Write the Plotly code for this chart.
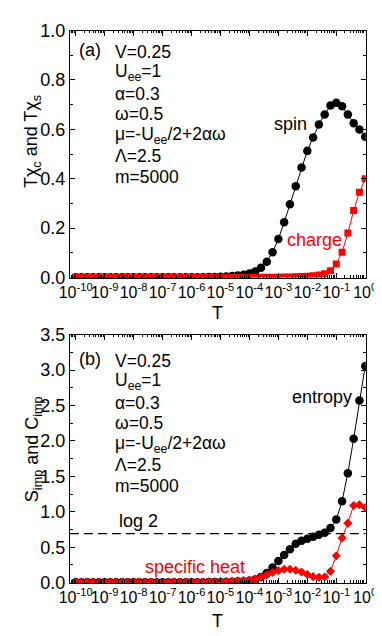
import numpy as np
import plotly.graph_objects as go

W, H = 382, 636

# Temperature grid (log10 T), from low T to high T (0.2 decade steps)
LOGT = [round(-10 + 0.2 * i, 2) for i in range(51)]
T = [10 ** v for v in LOGT]

# Values listed from high T (T=1) down to low T, then reversed to ascending T
spin_hi_to_lo = [0.57, 0.60, 0.625, 0.66, 0.694, 0.708, 0.697, 0.66, 0.62, 0.567,
                 0.513, 0.446, 0.37, 0.297, 0.224, 0.156, 0.103, 0.064, 0.04, 0.025,
                 0.016, 0.011, 0.008, 0.006, 0.004, 0.003, 0.0025, 0.002, 0.0015, 0.001,
                 0.001, 0.001, 0.001, 0.001, 0.001, 0.001, 0.001, 0.001, 0.001, 0.001,
                 0.001, 0.001, 0.001, 0.001, 0.001, 0.001, 0.001, 0.001, 0.001, 0.001, 0.001]
charge_hi_to_lo = [0.40, 0.345, 0.272, 0.18, 0.103, 0.055, 0.028, 0.015, 0.010, 0.007,
                   0.005, 0.004, 0.003, 0.0025, 0.002, 0.0015, 0.001, 0.001, 0.001, 0.001,
                   0.001, 0.001, 0.001, 0.001, 0.001, 0.001, 0.001, 0.001, 0.001, 0.001,
                   0.001, 0.001, 0.001, 0.001, 0.001, 0.001, 0.001, 0.001, 0.001, 0.001,
                   0.001, 0.001, 0.001, 0.001, 0.001, 0.001, 0.001, 0.001, 0.001, 0.001, 0.001]
entropy_hi_to_lo = [3.06, 2.57, 2.03, 1.545, 1.15, 0.89, 0.77, 0.705, 0.675, 0.648,
                    0.62, 0.59, 0.55, 0.47, 0.39, 0.305, 0.215, 0.135, 0.08, 0.045,
                    0.028, 0.02, 0.015, 0.012, 0.01, 0.009, 0.008, 0.008, 0.007, 0.007,
                    0.006, 0.006, 0.006, 0.005, 0.005, 0.005, 0.005, 0.005, 0.005, 0.005,
                    0.005, 0.005, 0.005, 0.005, 0.005, 0.005, 0.005, 0.005, 0.005, 0.005, 0.005]
heat_hi_to_lo = [1.06, 1.10, 1.09, 0.84, 0.63, 0.38, 0.16, 0.08, 0.075, 0.085,
                 0.115, 0.15, 0.175, 0.19, 0.19, 0.17, 0.145, 0.11, 0.075, 0.05,
                 0.038, 0.03, 0.025, 0.02, 0.017, 0.015, 0.013, 0.012, 0.011, 0.01,
                 0.01, 0.01, 0.01, 0.01, 0.01, 0.01, 0.01, 0.01, 0.01, 0.01,
                 0.01, 0.01, 0.01, 0.01, 0.01, 0.01, 0.01, 0.01, 0.01, 0.01, 0.01]

spin = spin_hi_to_lo[::-1]
charge = charge_hi_to_lo[::-1]
entropy = entropy_hi_to_lo[::-1]
heat = heat_hi_to_lo[::-1]

LOG2 = 0.693

XTICK_VALS = [1e-10, 1e-9, 1e-8, 1e-7, 1e-6, 1e-5, 1e-4, 1e-3, 1e-2, 1e-1, 1e0]
XTICK_TEXT = ["10<sup>-10</sup>", "10<sup>-9</sup>", "10<sup>-8</sup>", "10<sup>-7</sup>",
              "10<sup>-6</sup>", "10<sup>-5</sup>", "10<sup>-4</sup>", "10<sup>-3</sup>",
              "10<sup>-2</sup>", "10<sup>-1</sup>", "10<sup>0</sup>"]
PARAMS = ["V=0.25", "U<sub>ee</sub>=1", "α=0.3", "ω=0.5",
          "μ=-U<sub>ee</sub>/2+2αω", "Λ=2.5", "m=5000"]

FONT = "Liberation Sans, Arial, sans-serif"

def px(x):
    return x / W

def py(y):
    return 1 - y / H

fig = go.Figure()

# Panel (a)
fig.add_trace(go.Scatter(x=T, y=spin, mode="lines+markers", xaxis="x", yaxis="y",
                         line=dict(color="black", width=1),
                         marker=dict(symbol="circle", size=8.5, color="black"),
                         showlegend=False))
fig.add_trace(go.Scatter(x=T, y=charge, mode="lines+markers", xaxis="x", yaxis="y",
                         line=dict(color="#ff0000", width=1),
                         marker=dict(symbol="square", size=7, color="#ff0000"),
                         showlegend=False))
# Panel (b)
fig.add_trace(go.Scatter(x=T, y=entropy, mode="lines+markers", xaxis="x2", yaxis="y2",
                         line=dict(color="black", width=1),
                         marker=dict(symbol="circle", size=8.5, color="black"),
                         showlegend=False))
fig.add_trace(go.Scatter(x=T, y=heat, mode="lines+markers", xaxis="x2", yaxis="y2",
                         line=dict(color="#ff0000", width=1),
                         marker=dict(symbol="diamond", size=7, color="#ff0000"),
                         showlegend=False))

xdom = [px(54), px(368)]
xaxis_common = dict(type="log", range=[-10.2, 0.02], tickvals=XTICK_VALS, ticktext=XTICK_TEXT,
                    tickangle=0, ticks="inside", ticklen=5, tickwidth=1, tickcolor="black",
                    showline=True, linecolor="black", linewidth=1, mirror="ticks",
                    showgrid=False, zeroline=False,
                    minor=dict(ticks="inside", ticklen=2.5, tickcolor="black", dtick="D1", showgrid=False),
                    tickfont=dict(family=FONT, size=16, color="black"),
                    domain=xdom)
yaxis_common = dict(ticks="inside", ticklen=5, tickwidth=1, tickcolor="black",
                    showline=True, linecolor="black", linewidth=1, mirror="ticks",
                    showgrid=False, zeroline=False,
                    tickfont=dict(family=FONT, size=18, color="black"))

fig.update_layout(
    width=W, height=H, margin=dict(l=0, r=0, t=0, b=0),
    paper_bgcolor="white", plot_bgcolor="white",
    xaxis=dict(**xaxis_common, anchor="y"),
    yaxis=dict(**yaxis_common, anchor="x", range=[0, 1.0], dtick=0.2, tickformat=".1f",
               minor=dict(ticks="inside", ticklen=3, tickcolor="black", dtick=0.1),
               domain=[py(268), py(13)]),
    xaxis2=dict(**xaxis_common, anchor="y2"),
    yaxis2=dict(**yaxis_common, anchor="x2", range=[0, 3.5], dtick=0.5, tickformat=".1f",
                minor=dict(ticks="inside", ticklen=3, tickcolor="black", dtick=0.25),
                domain=[py(583), py(327)]),
)

# log 2 dashed line
fig.add_shape(type="line", xref="x2 domain", yref="y2", x0=0, x1=1, y0=LOG2, y1=LOG2,
              line=dict(color="black", width=1.2, dash="9px,5px"))

ann = []
def text(x, y, s, color="black", size=18, xanchor="center", angle=0):
    ann.append(dict(x=px(x), y=py(y), xref="paper", yref="paper", text=s, showarrow=False,
                    xanchor=xanchor, yanchor="middle", textangle=angle,
                    font=dict(family=FONT, size=size, color=color)))

# axis titles
text(15, 128, "Tχ<sub>c</sub> and Tχ<sub>s</sub>", size=18, angle=-90)
text(15, 445, "S<sub>imp</sub> and C<sub>imp</sub>", size=18, angle=-90)
text(211, 305, "T", size=18)
text(211, 623, "T", size=18)

# panel labels
text(62, 33, "(a)", xanchor="left")
text(62, 352, "(b)", xanchor="left")

# parameters
for i, s in enumerate(PARAMS):
    text(100, 35 + 21.5 * i, s, xanchor="left", size=17.5)
    text(100, 354 + 21.5 * i, s, xanchor="left", size=17.5)

# series labels
text(288, 109, "spin")
text(314, 229, "charge", color="#ff0000")
text(322, 391, "entropy")
text(187, 567, "specific heat", color="#ff0000")
text(127, 519, "log 2")

fig.update_layout(annotations=ann)
fig.write_html("out.html")
